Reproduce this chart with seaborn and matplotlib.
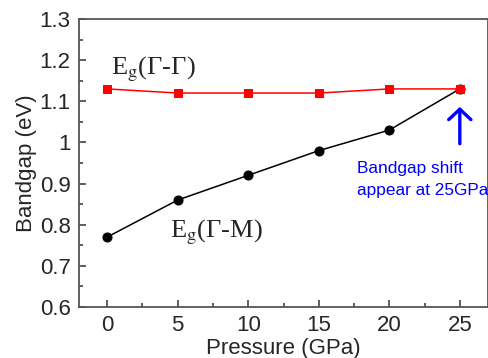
import matplotlib
matplotlib.use("Agg")
import matplotlib.pyplot as plt
from matplotlib.ticker import MultipleLocator
import seaborn as sns
import pandas as pd

pressure = [0, 5, 10, 15, 20, 25]
gap_gamma_gamma = [1.13, 1.12, 1.12, 1.12, 1.13, 1.13]
gap_gamma_m = [0.77, 0.86, 0.92, 0.98, 1.03, 1.13]
x_ticks = [0, 5, 10, 15, 20, 25]
y_ticks = [0.6, 0.7, 0.8, 0.9, 1.0, 1.1, 1.2, 1.3]
y_tick_labels = ["0.6", "0.7", "0.8", "0.9", "1", "1.1", "1.2", "1.3"]

sns.set_style("ticks")
plt.rcParams["font.family"] = ["Liberation Sans", "DejaVu Sans"]
plt.rcParams["mathtext.fontset"] = "stix"

df = pd.DataFrame({"P": pressure, "GG": gap_gamma_gamma, "GM": gap_gamma_m})

fig = plt.figure(figsize=(4.89, 3.58), dpi=100)
ax = fig.add_axes([0.1616, 0.1425, 0.8364, 0.8045])

sns.lineplot(data=df, x="P", y="GM", ax=ax, color="black", lw=1.1,
             marker="o", markersize=6.5, markeredgecolor="black", zorder=3)
sns.lineplot(data=df, x="P", y="GG", ax=ax, color="red", lw=1.1,
             marker="s", markersize=5.8, markeredgecolor="red", zorder=4)

ax.set_xlim(-2, 27)
ax.set_ylim(0.6, 1.3)
ax.set_xticks(x_ticks)
ax.set_yticks(y_ticks)
ax.set_yticklabels(y_tick_labels)
ax.xaxis.set_minor_locator(MultipleLocator(2.5))
ax.yaxis.set_minor_locator(MultipleLocator(0.05))
ax.tick_params(which="both", direction="in", color="#444444", width=1.2,
               labelsize=16, pad=6)
ax.tick_params(which="major", length=5)
ax.tick_params(which="minor", length=3)
for s in ax.spines.values():
    s.set_color("#555555")
    s.set_linewidth(1.3)

ax.set_xlabel("Pressure (GPa)", fontsize=16, labelpad=1)
ax.set_ylabel("Bandgap (eV)", fontsize=16, labelpad=2)

ax.text(0.28, 1.178, r"E$_{\rm g}$(Γ-Γ)", family="Liberation Serif",
        fontsize=19, va="center", ha="left")
ax.text(4.45, 0.782, r"E$_{\rm g}$(Γ-M)", family="Liberation Serif",
        fontsize=19, va="center", ha="left")

ax.annotate("", xy=(25, 1.093), xytext=(25, 0.99),
            arrowprops=dict(arrowstyle="->,head_length=0.75,head_width=0.8",
                            color="blue", lw=2.4))
ax.text(17.7, 0.937, "Bandgap shift", color="blue", fontsize=12.4,
        va="center", ha="left")
ax.text(17.7, 0.884, "appear at 25GPa", color="blue", fontsize=12.4,
        va="center", ha="left", clip_on=False)

fig.savefig("out.png", dpi=100)
